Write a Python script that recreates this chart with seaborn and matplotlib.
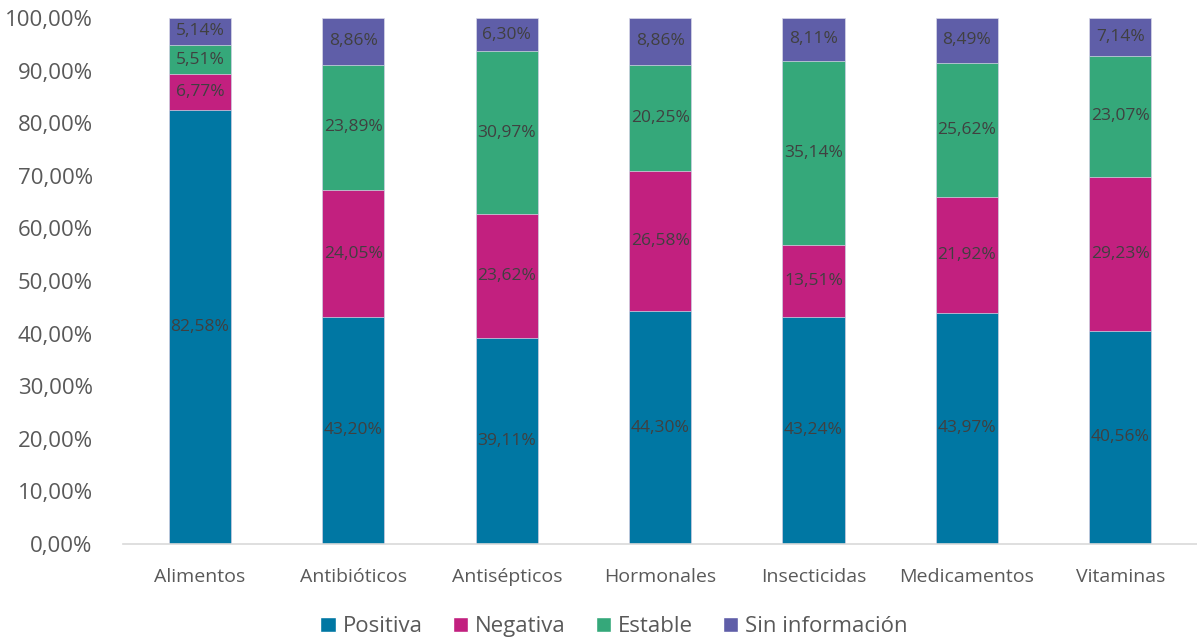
import numpy as np
import pandas as pd
import matplotlib
matplotlib.use("Agg")
import matplotlib.pyplot as plt
import seaborn as sns
from matplotlib.patches import Patch
from matplotlib.ticker import FuncFormatter

categorias = ["Alimentos", "Antibióticos", "Antisépticos", "Hormonales",
              "Insecticidas", "Medicamentos", "Vitaminas"]
positiva = [82.58, 43.20, 39.11, 44.30, 43.24, 43.97, 40.56]
negativa = [6.77, 24.05, 23.62, 26.58, 13.51, 21.92, 29.23]
estable = [5.51, 23.89, 30.97, 20.25, 35.14, 25.62, 23.07]
sin_info = [5.14, 8.86, 6.30, 8.86, 8.11, 8.49, 7.14]

series = ["Positiva", "Negativa", "Estable", "Sin información"]
colores = ["#0077A3", "#C2207F", "#35A87A", "#5F5EA8"]

df = pd.DataFrame({"categoria": categorias, "Positiva": positiva,
                   "Negativa": negativa, "Estable": estable,
                   "Sin información": sin_info})
acum = df[series].cumsum(axis=1)

sns.set_style("white")
plt.rcParams["font.family"] = ["Open Sans", "DejaVu Sans"]

fig = plt.figure(figsize=(11.97, 6.42), dpi=100)
ax = fig.add_axes([0.103, 0.1526, 0.897, 0.8194])

# barras apiladas: se dibuja primero el acumulado total y encima los menores
for serie, color in reversed(list(zip(series, colores))):
    sns.barplot(x=df["categoria"], y=acum[serie], color=color, width=0.405,
                saturation=1, edgecolor="#d9d9e8", linewidth=0.5, ax=ax)

for i in range(len(df)):
    for serie in series:
        v = df.loc[i, serie]
        centro = acum.loc[i, serie] - v / 2
        ax.text(i, centro, f"{v:.2f}%".replace(".", ","), ha="center",
                va="center", fontsize=12.5, color="#404040")

ax.set_ylim(0, 100)
ax.set_xlim(-0.5, len(df) - 0.5)
ax.set_yticks(np.arange(0, 101, 10))
ax.yaxis.set_major_formatter(FuncFormatter(lambda v, p: f"{v:.2f}%".replace(".", ",")))
ax.set_xlabel("")
ax.set_ylabel("")

for s in ["top", "right", "left"]:
    ax.spines[s].set_visible(False)
ax.spines["bottom"].set_color("#d9d9d9")
ax.spines["bottom"].set_linewidth(1.2)

ax.set_xticks(np.arange(-0.5, len(df), 1), minor=True)
ax.tick_params(axis="x", which="major", length=0, labelsize=14,
               labelcolor="#595959", pad=17)
ax.tick_params(axis="x", which="minor", length=8, width=1.2, color="#d9d9d9",
               direction="out")
ax.tick_params(axis="y", length=0, labelsize=16, labelcolor="#595959", pad=22)

handles = [Patch(facecolor=c, label=s) for s, c in zip(series, colores)]
fig.legend(handles=handles, loc="center", bbox_to_anchor=(0.513, 0.024), ncol=4,
           frameon=False, fontsize=16, labelcolor="#595959", handlelength=0.7,
           handleheight=0.7, handletextpad=0.3, columnspacing=1.35)

fig.savefig("out.png", dpi=100)
